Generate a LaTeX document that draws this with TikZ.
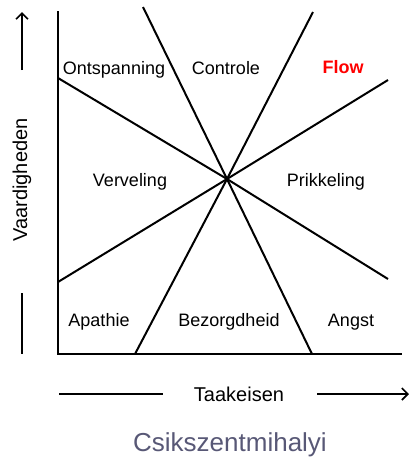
\documentclass[tikz,border=0pt]{standalone}
\usepackage{fontspec}
\setmainfont{Liberation Sans}
\usetikzlibrary{arrows.meta}
\definecolor{namegray}{RGB}{88,88,118}

\begin{document}
\begin{tikzpicture}[x=1pt,y=-1pt,
  zone/.style={anchor=base,font=\fontsize{18}{20}\selectfont},
  axlabel/.style={font=\fontsize{20}{22}\selectfont},
  thick line/.style={line width=2pt,black},
  side line/.style={line width=1.6pt,black}]
\useasboundingbox (0,0) rectangle (408,461);

%assen
\coordinate (top) at (58,11);
\coordinate (origin) at (58,354);
\coordinate (right) at (402,354);
\draw[thick line,line width=2.2pt] (top) -- (origin) -- (right);

%lijnen door het midden
\coordinate (mid) at (227,179);
\coordinate (a1) at (58,78);   \coordinate (a2) at (388,279);
\coordinate (b1) at (143,7);   \coordinate (b2) at (312,354);
\coordinate (c1) at (313,12);  \coordinate (c2) at (135,354);
\coordinate (d1) at (388,80);  \coordinate (d2) at (58,282);
\draw[thick line] (a1) -- (mid) -- (a2);
\draw[thick line] (b1) -- (mid) -- (b2);
\draw[thick line] (c1) -- (mid) -- (c2);
\draw[thick line] (d1) -- (mid) -- (d2);

%namen van de gebieden
\node[zone] (ontsp) at (114,74) {Ontspanning};
\node[zone] (contr) at (226,74) {Controle};
\node[zone,red,font=\fontsize{18}{20}\selectfont\bfseries] (flow) at (343,73) {Flow};
\node[zone] (verv) at (130,186) {Verveling};
\node[zone] (prikk) at (326,186) {Prikkeling};
\node[zone] (apath) at (99,326) {Apathie};
\node[zone] (bezorg) at (229,326) {Bezorgdheid};
\node[zone] (angst) at (351,326) {Angst};

%vaardigheden
\node[axlabel,rotate=90] (vaard) at (22,180) {Vaardigheden};
\coordinate (v1) at (22,70);  \coordinate (v2) at (22,12);
\coordinate (v3) at (22,293); \coordinate (v4) at (22,354);
\draw[side line,-{Straight Barb[length=6pt,width=12pt]}] (v1) -- (v2);
\draw[side line] (v3) -- (v4);

%taakeisen
\node[axlabel,anchor=base] (taak) at (239,401) {Taakeisen};
\coordinate (t1) at (59,394);  \coordinate (t2) at (163,394);
\coordinate (t3) at (317,394); \coordinate (t4) at (409,394);
\draw[side line] (t1) -- (t2);
\draw[side line,-{Straight Barb[length=6pt,width=12pt]}] (t3) -- (t4);

\node[anchor=base,namegray,font=\fontsize{26}{28}\selectfont] (naam) at (230,451) {Csikszentmihalyi};
\end{tikzpicture}
\end{document}
